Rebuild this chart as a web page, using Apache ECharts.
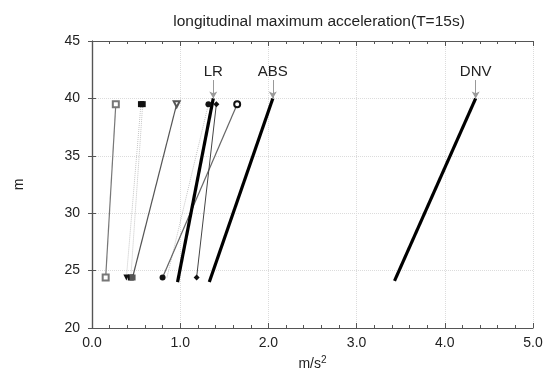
<!DOCTYPE html>
<html>
<head>
<meta charset="utf-8">
<script src="https://cdn.jsdelivr.net/npm/echarts@6/dist/echarts.min.js"></script>
<style>
  html, body { margin: 0; padding: 0; background: #fff; }
  #chart { width: 554px; height: 376px; }
</style>
</head>
<body>
<div id="chart"></div>
<script>
// x values (m/s^2) at the lower and upper end of each line
const lineNames = ["s1", "s2", "s3", "s4", "s5", "s6", "s7", "LR", "ABS", "DNV"];
const bottomX = [0.155, 0.39, 0.44, 0.46, 0.85, 0.80, 1.186, 0.97, 1.33, 3.43];
const topX = [0.27, 0.555, 0.575, 0.96, 1.32, 1.646, 1.41, 1.375, 2.05, 4.35];
const bottomY = [24.4, 24.4, 24.4, 24.4, 24.4, 24.4, 24.4, 24.0, 24.0, 24.1];
const topY = [39.5, 39.5, 39.5, 39.5, 39.5, 39.5, 39.5, 40.0, 40.0, 40.0];
const xTicks = [0, 1, 2, 3, 4, 5];
const yTicks = [20, 25, 30, 35, 40, 45];
// rule labels with arrows pointing at the top of the thick lines
const ruleLabels = ["LR", "ABS", "DNV"];

const chart = echarts.init(document.getElementById("chart"));

// line / marker look per line
const styles = [
  { color: "#777", width: 1.2, type: "solid", sym: ["emptyRect", "emptyRect"], symColor: "#777", rot: 0 },
  { color: "#c4c4c4", width: 1, type: "dotted", sym: ["triangle", "rect"], symColor: "#111", rot: 180 },
  { color: "#c4c4c4", width: 1, type: "dotted", sym: ["rect", "rect"], symColor: "#111", rot: 0 },
  { color: "#555", width: 1.2, type: "solid", sym: ["rect", "emptyTriangle"], symColor: "#555", rot: 180 },
  { color: "#c4c4c4", width: 1, type: "dotted", sym: ["none", "circle"], symColor: "#111", rot: 0 },
  { color: "#666", width: 1.2, type: "solid", sym: ["circle", "emptyCircle"], symColor: "#111", rot: 0 },
  { color: "#444", width: 1, type: "solid", sym: ["diamond", "diamond"], symColor: "#111", rot: 0 },
  { color: "#000", width: 3.2, type: "solid", sym: ["none", "none"], symColor: "#000", rot: 0 },
  { color: "#000", width: 3.2, type: "solid", sym: ["none", "none"], symColor: "#000", rot: 0 },
  { color: "#000", width: 3.2, type: "solid", sym: ["none", "none"], symColor: "#000", rot: 0 }
];

const series = lineNames.map((name, i) => {
  const st = styles[i];
  const s = {
    name: name,
    type: "line",
    silent: true,
    animation: false,
    lineStyle: { color: st.color, width: st.width, type: st.type },
    itemStyle: { color: st.symColor },
    symbolSize: 6,
    data: [
      { value: [bottomX[i], bottomY[i]], symbol: st.sym[0], symbolRotate: st.sym[0].indexOf("riangle") >= 0 ? st.rot : 0 },
      { value: [topX[i], topY[i]], symbol: st.sym[1], symbolRotate: st.sym[1].indexOf("riangle") >= 0 ? st.rot : 0 }
    ]
  };
  const k = ruleLabels.indexOf(name);
  if (k >= 0) {
    s.markLine = {
      silent: true,
      symbol: ["none", "arrow"],
      symbolSize: [6, 7],
      lineStyle: { color: "#999", width: 1, type: "solid" },
      label: {
        show: true,
        position: "start",
        distance: 1,
        formatter: ruleLabels[k],
        color: "#222",
        fontSize: 15,
        fontFamily: "Liberation Sans"
      },
      data: [[{ coord: [topX[i], 41.6] }, { coord: [topX[i], topY[i]] }]]
    };
  }
  return s;
});

const axisFont = { color: "#222", fontSize: 14, fontFamily: "Liberation Sans" };

const option = {
  animation: false,
  title: {
    text: "longitudinal maximum acceleration(T=15s)",
    left: 314,
    textAlign: "center",
    top: 9,
    textStyle: { fontSize: 15.5, fontWeight: "normal", color: "#222", fontFamily: "Liberation Sans" }
  },
  grid: { left: 92, right: 21, top: 41, bottom: 47 },
  xAxis: [
    {
      type: "value",
      min: xTicks[0],
      max: xTicks[xTicks.length - 1],
      interval: 1,
      name: "{a|m/s}{b|2}",
      nameLocation: "middle",
      nameGap: 27,
      nameTextStyle: {
        rich: {
          a: { fontSize: 14, color: "#222", fontFamily: "Liberation Sans" },
          b: { fontSize: 10, color: "#222", fontFamily: "Liberation Sans", verticalAlign: "bottom", padding: [0, 0, 8, 0] }
        }
      },
      axisLine: { show: true, lineStyle: { color: "#555", width: 1.2 } },
      axisTick: { show: true, inside: true, length: 5, lineStyle: { color: "#555" } },
      minorTick: { show: true, splitNumber: 5, length: 3, lineStyle: { color: "#555" } },
      axisLabel: { ...axisFont, margin: 8, formatter: (v) => v.toFixed(1) },
      splitLine: { show: true, lineStyle: { color: "#dcdcdc", type: "dotted", width: 1 } }
    },
    {
      type: "value",
      position: "top",
      min: xTicks[0],
      max: xTicks[xTicks.length - 1],
      interval: 1,
      axisLine: { show: true, lineStyle: { color: "#555", width: 1.2 } },
      axisTick: { show: true, inside: true, length: 5, lineStyle: { color: "#555" } },
      minorTick: { show: true, splitNumber: 5, length: 3, lineStyle: { color: "#555" } },
      axisLabel: { show: false },
      splitLine: { show: false }
    }
  ],
  yAxis: [
    {
      type: "value",
      min: yTicks[0],
      max: yTicks[yTicks.length - 1],
      interval: 5,
      name: "m",
      nameLocation: "middle",
      nameGap: 66,
      nameTextStyle: { fontSize: 14, color: "#222", fontFamily: "Liberation Sans" },
      axisLine: { show: true, lineStyle: { color: "#555", width: 1.2 } },
      axisTick: { show: true, inside: true, length: 4, lineStyle: { color: "#555" } },
      axisLabel: { ...axisFont, margin: 12 },
      splitLine: { show: true, lineStyle: { color: "#dcdcdc", type: "dotted", width: 1 } }
    },
    {
      type: "value",
      position: "right",
      min: yTicks[0],
      max: yTicks[yTicks.length - 1],
      interval: 5,
      axisLine: { show: true, lineStyle: { color: "#555", width: 1.2 } },
      axisTick: { show: true, inside: true, length: 4, lineStyle: { color: "#555" } },
      axisLabel: { show: false },
      splitLine: { show: false }
    }
  ],
  series: series
};

chart.setOption(option);
</script>
</body>
</html>
